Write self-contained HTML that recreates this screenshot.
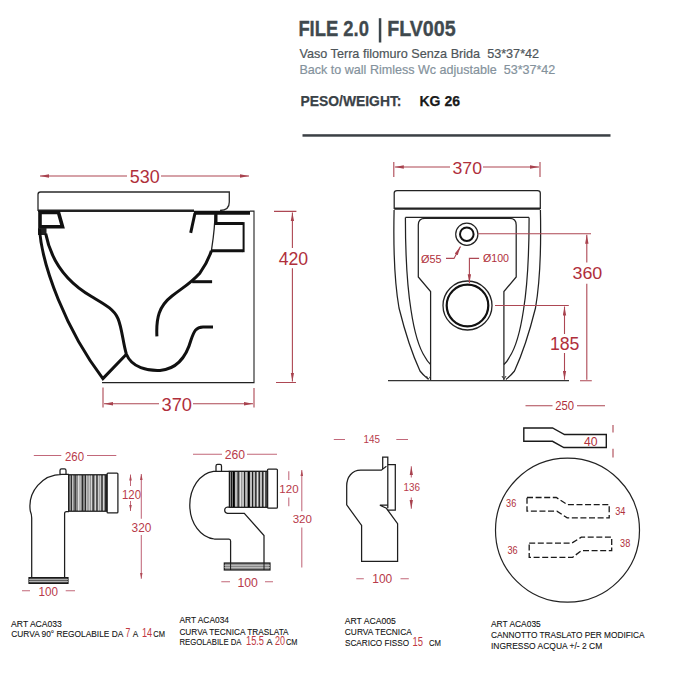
<!DOCTYPE html>
<html><head><meta charset="utf-8">
<style>
html,body{margin:0;padding:0;background:#fff;width:700px;height:700px;overflow:hidden}
svg{display:block}
text{font-family:"Liberation Sans",sans-serif;white-space:pre}
.r{fill:#b02f3b}
.rs{stroke:#ad4753;fill:none;stroke-width:1.1}
.k{stroke:#111;fill:none}
.rs2{stroke:#c2687a;fill:none;stroke-width:1.05}
.r2{fill:#b83a4a}
.g{stroke:#333;fill:none;stroke-width:1}
.fv{stroke:#222;fill:none;stroke-width:1.25}
.g2{stroke:#1e1e1e;fill:none;stroke-width:1.25}
</style></head><body>
<svg width="700" height="700" viewBox="0 0 700 700">
<defs>
<marker id="ar" viewBox="0 0 9 4" refX="9" refY="2" markerWidth="9" markerHeight="4" markerUnits="userSpaceOnUse" orient="auto"><path d="M0,0.3 L9,2 L0,3.7z" fill="#a8424e"/></marker>
<marker id="as" viewBox="0 0 6 3" refX="6" refY="1.5" markerWidth="6" markerHeight="3" markerUnits="userSpaceOnUse" orient="auto"><path d="M0,0.2 L6,1.5 L0,2.8z" fill="#b04a56"/></marker>
</defs>

<!-- HEADER -->
<g fill="#3f494e" stroke="#3f494e" stroke-width="0.35" font-weight="bold">
<text x="298.4" y="36.1" font-size="22.5" textLength="70.5" lengthAdjust="spacingAndGlyphs">FILE 2.0</text>
<text x="387.2" y="36.1" font-size="22.5" textLength="68.5" lengthAdjust="spacingAndGlyphs">FLV005</text>
</g>
<rect x="378.8" y="18.2" width="2.5" height="24.3" fill="#3c464c"/>
<text x="299.5" y="57.6" font-size="13" fill="#4e5559" stroke="#4e5559" stroke-width="0.2" textLength="239.6" lengthAdjust="spacingAndGlyphs">Vaso Terra filomuro Senza Brida  53*37*42</text>
<text x="299.5" y="73.7" font-size="13" fill="#84929c" stroke="#84929c" stroke-width="0.2" textLength="255.8" lengthAdjust="spacingAndGlyphs">Back to wall Rimless Wc adjustable  53*37*42</text>
<text x="300.5" y="105.6" font-size="15.4" font-weight="bold" fill="#3a4247" stroke="#3a4247" stroke-width="0.25" textLength="101" lengthAdjust="spacingAndGlyphs">PESO/WEIGHT:</text>
<text x="419.5" y="105.6" font-size="15.4" font-weight="bold" fill="#1a1a1a" stroke="#1a1a1a" stroke-width="0.25" textLength="40.5" lengthAdjust="spacingAndGlyphs">KG 26</text>
<rect x="302.5" y="134.2" width="308" height="2.5" fill="#3b4045"/>

<!-- SIDE VIEW -->
<g>
<!-- 530 dim -->
<path class="rs" d="M127,176 H40" marker-end="url(#ar)"/>
<path class="rs" d="M161,176 H249" marker-end="url(#ar)"/>
<text class="r" x="129.8" y="183" font-size="18" textLength="30" lengthAdjust="spacingAndGlyphs">530</text>
<!-- lid -->
<path stroke="#2a2a2a" stroke-width="1.3" fill="none" d="M38,211 V194.5 Q38,192 40.5,192 H229.3 V202 Q229.3,210.5 220,210.5"/>
<!-- top line -->
<path d="M38,210.8 H194" stroke="#222" stroke-width="2.6" fill="none"/>
<path d="M194,212.8 H250" stroke="#111" stroke-width="4" fill="none"/>
<!-- outline -->
<path stroke="#222" stroke-width="1.1" fill="none" d="M250,211.1 H254 V382.6 H102"/>
<!-- trapezoid -->
<path class="k" stroke-width="3.6" d="M40,212.5 H58.5 L62.5,226.8 H40 Z"/>
<path d="M38,228 H46.5 V235 H38 Z" fill="#222"/>
<!-- outer left curve -->
<path class="k" stroke-width="3" d="M39.5,229 C42,266 66,330 102.9,378.6 L126.4,354.3"/>
<!-- inner left curve -->
<path class="k" stroke-width="3" d="M45.7,233.6 C50.5,258 63,280 91.5,296.5 C104,304 114,309 118,318.6 C122,328 123,343 126.4,354.3 C132,368 148,371 160,370.5 C176,369 186,358 191,340 C194,331 196,327 203,326.9 H213"/>
<!-- S curve -->
<path class="k" stroke-width="3" d="M156.9,336.4 C156,318 159,306 172,296 C182,288 190,284 200,272.9 C205,266 209,258 211.4,250.7"/>
<path d="M211.4,250.7 C213,240 215,228 215,213" stroke="#222" stroke-width="1.3" fill="none"/>
<path class="k" stroke-width="3" d="M192.1,281.7 H212.1"/>
<!-- tick -->
<path class="k" stroke-width="3" d="M195,213 L190.7,232.9"/>
<!-- inlet -->
<path class="k" stroke-width="3" d="M216,213 V223.6 H243 M243,250.7 H211"/>
<path class="k" stroke-width="2" d="M243.6,222.1 V252.2"/>
<!-- 370 bottom -->
<path class="rs" d="M103,387.5 V407.5 M254,388 V407.5"/>
<path class="rs" d="M159,403.8 H104" marker-end="url(#ar)"/>
<path class="rs" d="M193,403.8 H253" marker-end="url(#ar)"/>
<text class="r" x="161.5" y="410.6" font-size="18" textLength="30.5" lengthAdjust="spacingAndGlyphs">370</text>
<!-- 420 -->
<path class="rs" d="M274,211.4 H296.4 M276,382.5 H296"/>
<path class="rs" d="M292.4,248 V212.4" marker-end="url(#ar)"/>
<path class="rs" d="M292.4,268.3 V381.5" marker-end="url(#ar)"/>
<text class="r" x="278.7" y="265" font-size="18" textLength="29.5" lengthAdjust="spacingAndGlyphs">420</text>
</g>

<!-- FRONT VIEW -->
<g>
<path class="rs" d="M393.8,162 V177 M540,162 V177"/>
<path class="rs" d="M450,167 H394.8" marker-end="url(#ar)"/>
<path class="rs" d="M483,167 H539" marker-end="url(#ar)"/>
<text class="r" x="452.5" y="173.6" font-size="17.2" textLength="29.5" lengthAdjust="spacingAndGlyphs">370</text>
<!-- seat -->
<path class="fv" stroke-width="1.4" d="M394.2,209 V193 Q394.2,190.5 397,190.5 H537.5 Q540.3,190.5 540.3,193 V209"/>
<path d="M394.2,208.6 H540.3" stroke="#222" stroke-width="2.2" fill="none"/>
<!-- outer body -->
<path class="fv" d="M394.1,210 C393.2,250 395,285 399,308 C406,336 414,358 420,371 C424,376 427,378 428.5,379.5 M540.4,210C541.3,250,539.5,285,535.5,308C528.5,336,520.5,358,514.5,371C510.5,376,507.5,378,506,379.5"/>

<!-- frame -->
<path class="fv" d="M405.4,217.4 C405.4,250 407,285 411,310 C414,330 419,348 425,357 C427,361 429,363 430.6,364.5 M529.1,217.4C529.1,250,527.5,285,523.5,310C520.5,330,515.5,348,509.5,357C507.5,361,505.5,363,503.9,364.5 M405.4,217.4 H529.1"/>
<!-- inner panel -->
<path class="fv" d="M430.6,380 V291.5 L418.3,277 V225 Q418.3,218.4 425,218.4 H509.5 Q516.2,218.4 516.2,225 V277 L503.9,291.5 V380"/>
<!-- feet -->
<path class="g" d="M426.5,376 Q428.5,381 430.6,376 M502,376 Q504,381 506,376"/>
<!-- ground -->
<path d="M388,380.7 H569" stroke="#333" stroke-width="1.2" fill="none"/>
<!-- small circle -->
<circle cx="466.8" cy="234.2" r="11.1" stroke="#222" fill="none" stroke-width="1.2"/>
<circle cx="466.8" cy="234.2" r="6.8" class="k" stroke-width="2"/>
<!-- big circle -->
<circle cx="467.5" cy="305.5" r="24.5" stroke="#222" fill="none" stroke-width="1.3"/>
<circle cx="467.5" cy="305.5" r="20.8" class="k" stroke-width="2.2"/>
<!-- leaders -->
<path class="rs" d="M446,258.4 H454 L460.5,246.5" marker-end="url(#ar)"/>
<path class="rs" d="M479.1,258.4 H469.4 V283.2" marker-end="url(#ar)"/>
<text class="r" x="421" y="262.5" font-size="11" textLength="20.5" lengthAdjust="spacingAndGlyphs">Ø55</text>
<text class="r" x="483" y="262.2" font-size="11" textLength="26" lengthAdjust="spacingAndGlyphs">Ø100</text>
<!-- 360 / 185 -->
<path class="rs" d="M478,233.8 H591 M495,305.5 H568.8 M580,380.7 H591.8"/>
<path class="rs" d="M586.8,262.5 V234.8" marker-end="url(#ar)"/>
<path class="rs" d="M586.8,283.8 V379.7"/>
<path class="rs" d="M564.5,334 V306.5" marker-end="url(#ar)"/>
<path class="rs" d="M564.5,353 V379.7" marker-end="url(#ar)"/>
<text class="r" x="572.5" y="279.3" font-size="17.4" textLength="29.8" lengthAdjust="spacingAndGlyphs">360</text>
<text class="r" x="549.9" y="349.8" font-size="17.6" textLength="29.5" lengthAdjust="spacingAndGlyphs">185</text>
<!-- 250 -->
<path class="rs" d="M525.5,405.8 H552.5 M577,405.8 H605"/>
<text class="r" x="555.3" y="410.2" font-size="12.6" textLength="18.8" lengthAdjust="spacingAndGlyphs">250</text>
<!-- pipe -->
<path stroke="#1a1a1a" fill="none" stroke-width="1.4" d="M523.8,428 H552.5 L564.5,434.5 H606.3 V447.5 H563.8 L552.5,441.3 H523.8 Z"/>
<text class="r" x="584" y="445.8" font-size="12.8" textLength="13.6" lengthAdjust="spacingAndGlyphs">40</text>
<path class="rs" d="M613,425 V432.5 M613,448.8 V457.5"/>
</g>

<!-- PART 1 ACA033 -->
<g>
<path class="rs2" d="M33.8,455.5 H61.3 M87,455.5 H116.3"/>
<text class="r2" x="65" y="460.8" font-size="12.2" textLength="19" lengthAdjust="spacingAndGlyphs">260</text>
<path class="g2" d="M31.7,579 V518 Q31.7,514.5 30.3,511 A32,32 0 0 1 62,474.3 H69 M60,474.3 V470.5 Q60,468.9 61.5,468.9 H64.5 Q66,468.9 66,470.5 V474.3 M64.6,579 V513.5 Q64.6,511.5 66.5,511.5 H69"/>
<rect x="68.7" y="474.8" width="38" height="36.4" fill="#8c8c8c" stroke="#1a1a1a" stroke-width="1.3"/>
<path stroke="#f4f4f4" stroke-width="0.8" d="M72.5,475.5 V510.5 M78.5,475.5 V510.5 M80,475.5 V510.5 M86.8,475.5 V510.5 M89.2,475.5 V510.5 M91.4,475.5 V510.5 M95.4,475.5 V510.5 M98.3,475.5 V510.5 M100.2,475.5 V510.5 M103.6,475.5 V510.5"/>
<path stroke="#2a2a2a" stroke-width="1.1" d="M71.6,475 V511 M75.2,475 V511 M82.5,475 V511 M85.5,475 V511 M93.2,475 V511 M97,475 V511 M102,475 V511 M105.5,475 V511"/>
<path class="g2" d="M107.1,474 Q107.1,473.1 108,473.1 H117 Q117.9,473.1 117.9,474 V512 Q117.9,512.9 117,512.9 H108 Q107.1,512.9 107.1,512 Z"/>
<rect x="29" y="577.6" width="39" height="5.8" fill="#555" stroke="#1a1a1a" stroke-width="1.2"/>
<path d="M29,579.6 H68 M29,581.5 H68" stroke="#ddd" stroke-width="0.7"/>
<path class="rs2" d="M22,590.7 H30 M65.7,590.7 H75"/>
<text class="r2" x="38.6" y="595.6" font-size="12.2" textLength="19.5" lengthAdjust="spacingAndGlyphs">100</text>
<path class="rs2" d="M130.5,486 V474.5" marker-end="url(#as)"/>
<path class="rs2" d="M130.5,501 V511" marker-end="url(#as)"/>
<text class="r2" x="122" y="498.8" font-size="12.2" textLength="19" lengthAdjust="spacingAndGlyphs">120</text>
<path class="rs2" d="M141.3,518.8 V474" marker-end="url(#as)"/>
<path class="rs2" d="M141.3,535 V578.8" marker-end="url(#as)"/>
<text class="r2" x="131.6" y="531.8" font-size="12.2" textLength="19.8" lengthAdjust="spacingAndGlyphs">320</text>
</g>

<!-- PART 2 ACA034 -->
<g>
<path class="rs2" d="M193,454.3 H222 M247,454.3 H277"/>
<text class="r2" x="224.7" y="458.9" font-size="12.2" textLength="20.3" lengthAdjust="spacingAndGlyphs">260</text>
<path class="g2" d="M216,471.3 V466 Q216,464.4 217.6,464.4 H220 Q221.5,464.4 221.5,466 V471.3"/>
<path class="g2" d="M229.4,471.3 H213.4 A26.5,34 0 0 0 214.3,539 H229 Q230.6,539 230.6,541 V569"/>
<path class="g2" d="M229.4,507 H227.5 A3.4,3.2 0 0 0 227.5,513.3 H244.3 L264,535.6 V569"/>
<rect x="229.4" y="471.3" width="38.1" height="36" fill="#9a9a9a" stroke="#1a1a1a" stroke-width="1.3"/>
<path stroke="#f4f4f4" stroke-width="0.8" d="M236,472 V506.5 M240.5,472 V506.5 M243,472 V506.5 M246,472 V506.5 M251,472 V506.5 M254,472 V506.5 M257.5,472 V506.5 M261,472 V506.5 M264.5,472 V506.5"/>
<path stroke="#1a1a1a" stroke-width="1.1" d="M231.5,471.5 V507 M238.2,471.5 V507 M244.6,471.5 V507 M252.6,471.5 V507 M255.8,471.5 V507 M259.3,471.5 V507 M262.7,471.5 V507 M266,471.5 V507"/>
<path d="M233.8,471.5 V507 M248.8,471.5 V507" stroke="#000" stroke-width="2"/>
<path class="g2" d="M267.5,470 Q267.5,469 268.5,469 H276.4 Q277.4,469 277.4,470 V507.2 Q277.4,508.2 276.4,508.2 H268.5 Q267.5,508.2 267.5,507.2 Z"/>
<rect x="224.3" y="563" width="45.7" height="7" fill="#888" stroke="#1a1a1a" stroke-width="1.2"/>
<path d="M224.3,565.3 H270 M224.3,567.6 H270" stroke="#ddd" stroke-width="0.7"/>
<path d="M230.6,563 V570 M264,563 V570" stroke="#1a1a1a" stroke-width="1"/>
<path class="rs2" d="M221.3,581.8 H230 M265,581.8 H273"/>
<text class="r2" x="237.4" y="586.7" font-size="12.2" textLength="20.5" lengthAdjust="spacingAndGlyphs">100</text>
<path class="rs2" d="M288.8,471.3 V480 M288.8,497.5 V506.3"/>
<text class="r2" x="279.3" y="492.7" font-size="11.2" textLength="19.3" lengthAdjust="spacingAndGlyphs">120</text>
<path class="rs2" d="M301.8,511.3 V470" marker-end="url(#as)"/>
<path class="rs2" d="M301.8,527.5 V567.5"/>
<text class="r2" x="292.7" y="523.2" font-size="11.4" textLength="19.3" lengthAdjust="spacingAndGlyphs">320</text>
</g>

<!-- PART 3 ACA005 -->
<g>
<path class="rs2" d="M333.8,439.5 H345 M396.3,439.5 H408"/>
<text class="r2" x="363.4" y="443.3" font-size="10.3" textLength="16.5" lengthAdjust="spacingAndGlyphs">145</text>
<path class="g2" d="M382.7,469 V457.2 H387.8 V508.3"/>
<path class="g2" d="M387.8,464.6 H395.3 V510 H387.8"/>
<path class="g2" stroke-width="1.35" d="M386.4,466.3 L381.3,470.2 H360.7 C352,470.2 346.7,477 346.7,486 V504.9 L361.6,525.4 V561.4 H397.6 V523.7 L386.4,508.3 L379.9,505.2 H387.8"/>
<path class="rs2" d="M411.3,477.5 V466.3" marker-end="url(#ar)"/>
<path class="rs2" d="M411.3,497.5 V508.8" marker-end="url(#ar)"/>
<text class="r2" x="403.4" y="490.8" font-size="10.3" textLength="16.5" lengthAdjust="spacingAndGlyphs">136</text>
<path class="rs2" d="M356.3,578.8 H363.8 M400.5,578.8 H408.8"/>
<text class="r2" x="372.3" y="583.3" font-size="12.2" textLength="20" lengthAdjust="spacingAndGlyphs">100</text>
</g>

<!-- PART 4 ACA035 -->
<g>
<circle cx="567.5" cy="530.2" r="72" stroke="#222" fill="none" stroke-width="1.2"/>
<path stroke="#1a1a1a" fill="none" stroke-width="1.3" stroke-dasharray="6,2.6" d="M527,497.5 H556.3 L567.2,504.6 H609.2 V517.9 H567.2 L556.9,511.1 H527 Z"/>
<path stroke="#1a1a1a" fill="none" stroke-width="1.3" stroke-dasharray="6,2.6" d="M529.2,543.1 H571.8 L581.3,537.2 H611.7 V550.7 H581.3 L572.6,557.3 H529.2 Z"/>
<text class="r" x="506.1" y="507.3" font-size="10.6" textLength="10.2" lengthAdjust="spacingAndGlyphs">36</text>
<text class="r" x="615.2" y="514.6" font-size="10.6" textLength="10.2" lengthAdjust="spacingAndGlyphs">34</text>
<text class="r" x="507.5" y="553.5" font-size="10.6" textLength="10.2" lengthAdjust="spacingAndGlyphs">36</text>
<text class="r" x="620.1" y="546.6" font-size="10.6" textLength="10.2" lengthAdjust="spacingAndGlyphs">38</text>
</g>

<!-- LABELS -->
<g fill="#111" stroke="#111" stroke-width="0.1" font-size="9.8">
<text x="11.1" y="626.6" textLength="50.8" lengthAdjust="spacingAndGlyphs">ART ACA033</text>
<text x="11.3" y="637" textLength="112" lengthAdjust="spacingAndGlyphs">CURVA 90° REGOLABILE DA</text>
<text x="125.6" y="637.1" font-size="12" fill="#c0393f" stroke="none" textLength="4.8" lengthAdjust="spacingAndGlyphs">7</text>
<text x="132.7" y="637" textLength="5.5" lengthAdjust="spacingAndGlyphs">A</text>
<text x="141.9" y="637.1" font-size="12" fill="#c0393f" stroke="none" textLength="10.2" lengthAdjust="spacingAndGlyphs">14</text>
<text x="153.3" y="637" textLength="11.7" lengthAdjust="spacingAndGlyphs">CM</text>

<text x="179.4" y="623.2" textLength="49.6" lengthAdjust="spacingAndGlyphs">ART ACA034</text>
<text x="179.4" y="634.6" textLength="109.2" lengthAdjust="spacingAndGlyphs">CURVA TECNICA TRASLATA</text>
<text x="179.5" y="644.5" textLength="62" lengthAdjust="spacingAndGlyphs">REGOLABILE DA</text>
<text x="246" y="644.6" font-size="12" fill="#c0393f" stroke="none" textLength="18" lengthAdjust="spacingAndGlyphs">15.5</text>
<text x="266.5" y="644.5" textLength="6" lengthAdjust="spacingAndGlyphs">A</text>
<text x="275" y="644.6" font-size="12" fill="#c0393f" stroke="none" textLength="10" lengthAdjust="spacingAndGlyphs">20</text>
<text x="286" y="644.5" textLength="11.5" lengthAdjust="spacingAndGlyphs">CM</text>

<text x="344.8" y="623.9" textLength="51" lengthAdjust="spacingAndGlyphs">ART ACA005</text>
<text x="344.8" y="634.6" textLength="67" lengthAdjust="spacingAndGlyphs">CURVA TECNICA</text>
<text x="345" y="645.5" textLength="64" lengthAdjust="spacingAndGlyphs">SCARICO FISSO</text>
<text x="412.5" y="645.6" font-size="12" fill="#c0393f" stroke="none" textLength="10.5" lengthAdjust="spacingAndGlyphs">15</text>
<text x="429" y="645.5" textLength="12" lengthAdjust="spacingAndGlyphs">CM</text>

<text x="491" y="627.2" textLength="49.8" lengthAdjust="spacingAndGlyphs">ART ACA035</text>
<text x="491" y="638.2" textLength="153.6" lengthAdjust="spacingAndGlyphs">CANNOTTO TRASLATO PER MODIFICA</text>
<text x="491" y="648.9" textLength="111.2" lengthAdjust="spacingAndGlyphs">INGRESSO ACQUA +/- 2 CM</text>
</g>
</svg>
</body></html>
